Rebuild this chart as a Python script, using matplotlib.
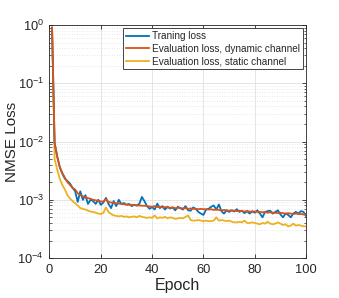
import numpy as np
from matplotlib import pyplot as plt
from matplotlib.ticker import LogLocator, LogFormatterMathtext, MultipleLocator, NullFormatter

plt.rcParams['font.family'] = ['Liberation Sans', 'DejaVu Sans']
plt.rcParams['mathtext.fontset'] = 'custom'
plt.rcParams['mathtext.rm'] = 'Liberation Sans'
plt.rcParams['mathtext.default'] = 'regular'

epochs = list(range(1, 101))

# training loss
train_loss = [0.9, 0.0095, 0.0056, 0.0036, 0.0028, 0.0023, 0.0021, 0.0019, 0.0016, 0.0014,
              0.00092, 0.0014, 0.001, 0.0012, 0.00085, 0.001, 0.00095, 0.00085, 0.001, 0.00082,
              0.0009, 0.00108, 0.00085, 0.00072, 0.00095, 0.00078, 0.001, 0.00085, 0.00088, 0.00082,
              0.00085, 0.00078, 0.00082, 0.0008, 0.00085, 0.00112, 0.00095, 0.00078, 0.0007, 0.00075,
              0.00068, 0.00086, 0.00072, 0.00078, 0.00068, 0.00076, 0.00071, 0.00074, 0.00066, 0.00076,
              0.00072, 0.00068, 0.00078, 0.00066, 0.00065, 0.00074, 0.0007, 0.00062, 0.00058, 0.00055,
              0.00068, 0.0007, 0.00076, 0.0008, 0.00068, 0.00083, 0.00064, 0.00058, 0.00066, 0.00062,
              0.00066, 0.00063, 0.00069, 0.00062, 0.00065, 0.00059, 0.00064, 0.00058, 0.00064, 0.0006,
              0.00066, 0.00058, 0.0005, 0.00062, 0.00064, 0.00065, 0.00058, 0.00062, 0.00066, 0.00056,
              0.0005, 0.00058, 0.00055, 0.0005, 0.00058, 0.00062, 0.00058, 0.00064, 0.00062, 0.00052]

# evaluation loss, dynamic channel
dyn_loss = [0.9, 0.0095, 0.0055, 0.0037, 0.0029, 0.0024, 0.002, 0.0018, 0.0016, 0.0015,
            0.0013, 0.0012, 0.00115, 0.0011, 0.00107, 0.00104, 0.001, 0.00098, 0.00096, 0.00094,
            0.00093, 0.00103, 0.00092, 0.0009, 0.00088, 0.00087, 0.00086, 0.00085, 0.00084, 0.00083,
            0.00082, 0.00082, 0.00081, 0.0008, 0.0008, 0.00079, 0.00079, 0.00078, 0.00077, 0.00076,
            0.00078, 0.00075, 0.00076, 0.00074, 0.00075, 0.00074, 0.00073, 0.00074, 0.00072, 0.00073,
            0.00072, 0.00071, 0.00072, 0.0007, 0.00071, 0.0007, 0.0007, 0.00069, 0.0007, 0.00069,
            0.00069, 0.00068, 0.00069, 0.00067, 0.00068, 0.00067, 0.00066, 0.00067, 0.00066, 0.00065,
            0.00066, 0.00065, 0.00064, 0.00065, 0.00064, 0.00063, 0.00064, 0.00063, 0.00062, 0.00063,
            0.00062, 0.00062, 0.00061, 0.00062, 0.0006, 0.00061, 0.0006, 0.0006, 0.00059, 0.0006,
            0.00059, 0.00058, 0.00059, 0.00058, 0.00057, 0.00058, 0.00057, 0.00057, 0.00056, 0.00056]

# evaluation loss, static channel
static_loss = [0.9, 0.005, 0.0033, 0.0023, 0.0018, 0.0015, 0.0012, 0.00105, 0.00095, 0.00087,
               0.0008, 0.00072, 0.0007, 0.00068, 0.00065, 0.00063, 0.00062, 0.0006, 0.00058, 0.00057,
               0.0006, 0.00074, 0.00062, 0.00057, 0.00054, 0.00053, 0.00052, 0.00053, 0.00051, 0.00052,
               0.0005, 0.00051, 0.00052, 0.0005, 0.00053, 0.00051, 0.0005, 0.00049, 0.0005, 0.00049,
               0.00054, 0.00048, 0.0005, 0.00049, 0.00051, 0.00048, 0.0005, 0.00049, 0.00047, 0.00048,
               0.00049, 0.00048, 0.00051, 0.00054, 0.00045, 0.00044, 0.00044, 0.00045, 0.00044, 0.00043,
               0.00044, 0.00043, 0.00043, 0.00044, 0.0005, 0.00044, 0.00045, 0.00044, 0.00043, 0.00044,
               0.00042, 0.00041, 0.00041, 0.00042, 0.00041, 0.00044, 0.0004, 0.0004, 0.00041, 0.0004,
               0.00039, 0.00038, 0.0004, 0.00039, 0.00042, 0.00039, 0.00038, 0.00039, 0.00041, 0.00039,
               0.00037, 0.00038, 0.00035, 0.00036, 0.00039, 0.00036, 0.00037, 0.00036, 0.00035, 0.00035]

labels = ["Traning loss", "Evaluation loss, dynamic channel", "Evaluation loss, static channel"]
colors = ["#0072BD", "#D95319", "#EDB120"]

axcol = "#262626"

fig = plt.figure(figsize=(3.39, 2.98), dpi=100)
ax = fig.add_axes([0.146, 0.134, 0.757, 0.782])

# static first so it sits under the others, legend order kept below
l3, = ax.plot(epochs, static_loss, c=colors[2], linewidth=1.3)
l1, = ax.plot(epochs, train_loss, c=colors[0], linewidth=1.3)
l2, = ax.plot(epochs, dyn_loss, c=colors[1], linewidth=1.3)

ax.set_yscale("log")
ax.set_xlim(0, 100)
ax.set_ylim(1e-4, 1)
ax.xaxis.set_major_locator(MultipleLocator(20))
ax.yaxis.set_major_locator(LogLocator(base=10, numticks=10))
ax.yaxis.set_major_formatter(LogFormatterMathtext())
ax.yaxis.set_minor_locator(LogLocator(base=10, subs=np.arange(2, 10), numticks=20))
ax.yaxis.set_minor_formatter(NullFormatter())

ax.grid(True, which="major", color="#e0e0e0", linewidth=0.6)
ax.grid(True, which="minor", axis="y", color="#e0e0e0", linewidth=0.6, linestyle=(0, (1, 2)))
ax.set_axisbelow(True)

ax.tick_params(which="both", direction="in", top=True, right=True, colors=axcol, labelsize=9.3)
ax.tick_params(which="major", length=3, width=0.6, pad=4)
ax.tick_params(which="minor", length=1.8, width=0.5)
for s in ax.spines.values():
    s.set_color(axcol)
    s.set_linewidth(0.6)

ax.set_xlabel("Epoch", fontsize=11.5, color=axcol, labelpad=1.5)
ax.set_ylabel("NMSE Loss", fontsize=11, color=axcol)
ax.yaxis.set_label_coords(-0.12, 0.5)

leg = ax.legend([l1, l2, l3], labels, loc="upper right", fontsize=7.2, handlelength=2.3,
                handletextpad=0.3, borderaxespad=0.3, borderpad=0.3, labelspacing=0.25,
                fancybox=False, framealpha=1)
leg.get_frame().set_edgecolor(axcol)
leg.get_frame().set_linewidth(0.6)
for t in leg.get_texts():
    t.set_color(axcol)

fig.savefig("out.png", dpi=100)
